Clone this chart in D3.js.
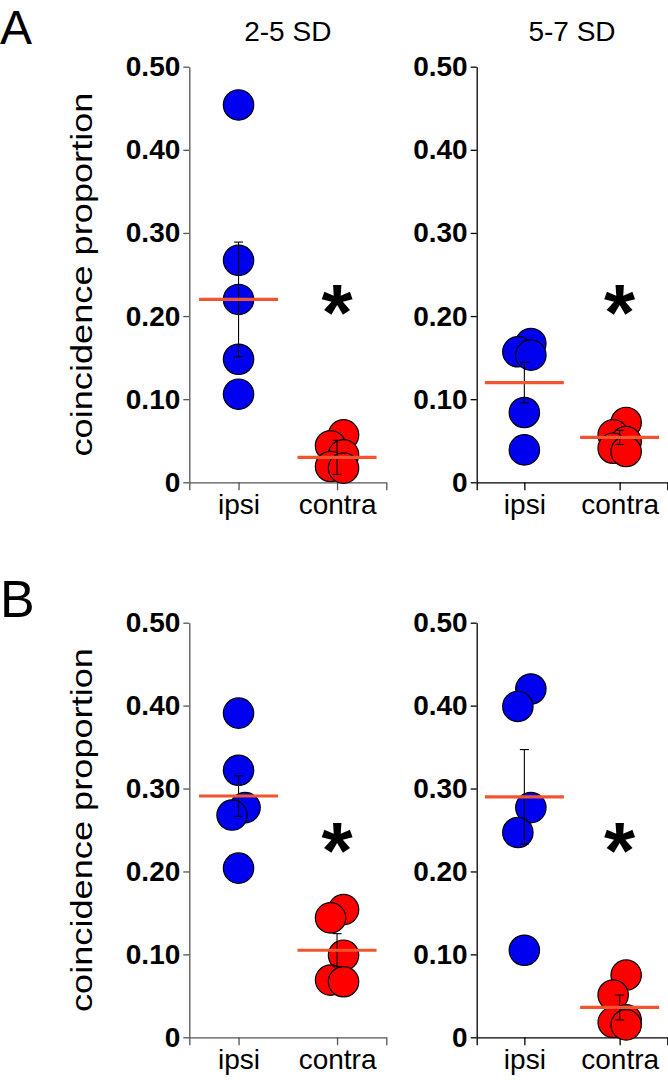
<!DOCTYPE html>
<html>
<head>
<meta charset="utf-8">
<script src="https://cdn.jsdelivr.net/npm/d3@7"></script>
<style>
  html, body { margin: 0; padding: 0; background: #fff; }
  svg { display: block; }
  text { font-family: "Liberation Sans", Arial, Helvetica, sans-serif; }
</style>
</head>
<body>
<svg id="chart" width="668" height="1080"></svg>
<script>
// ---------------- DATA ----------------
const categories = ["ipsi", "contra"];
const yTicks = [0, 0.10, 0.20, 0.30, 0.40, 0.50];
const yTickLabels = ["0", "0.10", "0.20", "0.30", "0.40", "0.50"];
const columnTitles = ["2-5 SD", "5-7 SD"];
const rowLabels = ["A", "B"];
const yLabel = "coincidence proportion";

// individual points (coincidence proportion)
const ipsiA25   = [0.454, 0.267, 0.220, 0.148, 0.106];
const contraA25 = [0.057, 0.044, 0.033, 0.019, 0.017];
const ipsiA57   = [0.167, 0.157, 0.153, 0.084, 0.039];
const contraA57 = [0.072, 0.057, 0.049, 0.041, 0.037];
const ipsiB25   = [0.391, 0.322, 0.277, 0.268, 0.204];
const contraB25 = [0.154, 0.144, 0.099, 0.069, 0.067];
const ipsiB57   = [0.420, 0.399, 0.277, 0.247, 0.105];
const contraB57 = [0.075, 0.051, 0.021, 0.018, 0.015];

// group mean and SEM [ipsi, contra]
const meanA25 = [0.220, 0.030];  const semA25 = [0.069, 0.0205];
const meanA57 = [0.120, 0.054];  const semA57 = [0.0245, 0.0085];
const meanB25 = [0.291, 0.105];  const semB25 = [0.0245, 0.020];
const meanB57 = [0.290, 0.036];  const semB57 = [0.057, 0.015];

// significance marker level (data units) for each panel: A25, A57, B25, B57
const sigLevel = [0.219, 0.219, 0.240, 0.240];

// ---------------- LAYOUT ----------------
const rowsLayout = [{top: 66.7, bottom: 482.3}, {top: 622.7, bottom: 1037.3}];
const colsLayout = [{x0: 189.3, w: 197, axisColor: "#555"}, {x0: 476.7, w: 190.6, axisColor: "#000"}];
const rowLetterPos = [{y: 44, size: 48}, {y: 617, size: 52}];
const R = 15.2;          // circle radius
const spread = 6.5;      // horizontal dodge for overlapping points
const meanHalf = 39.5;   // half-width of mean line
const capHalf = 4.5;     // half-width of error-bar caps
const colors = {ipsi: "#0000f0", contra: "#ff0000", mean: "#f2542d"};

const panels = [
  {row: 0, col: 0, pts: [ipsiA25, contraA25], mean: meanA25, sem: semA25, sig: sigLevel[0]},
  {row: 0, col: 1, pts: [ipsiA57, contraA57], mean: meanA57, sem: semA57, sig: sigLevel[1]},
  {row: 1, col: 0, pts: [ipsiB25, contraB25], mean: meanB25, sem: semB25, sig: sigLevel[2]},
  {row: 1, col: 1, pts: [ipsiB57, contraB57], mean: meanB57, sem: semB57, sig: sigLevel[3]}
];

const svg = d3.select("#chart");

// Deterministic dodge: clusters of vertically overlapping points alternate sides
function dodge(values, y) {
  const idx = values.map((v, i) => i).sort((a, b) => values[b] - values[a]);
  const off = new Array(values.length).fill(0);
  let cluster = [];
  const flush = () => {
    if (cluster.length > 1) cluster.forEach((k, j) => { off[k] = (j % 2 === 0 ? 1 : -1) * spread; });
    cluster = [];
  };
  idx.forEach((k, j) => {
    if (j > 0 && Math.abs(y(values[k]) - y(values[idx[j - 1]])) >= 2 * R) flush();
    cluster.push(k);
  });
  flush();
  return off;
}

// Row letters
rowLabels.forEach((lab, i) => {
  svg.append("text")
    .attr("x", 0)
    .attr("y", rowLetterPos[i].y)
    .attr("font-size", rowLetterPos[i].size)
    .attr("fill", "#000")
    .text(lab);
});

// Column titles
columnTitles.forEach((t, j) => {
  const c = colsLayout[j];
  svg.append("text")
    .attr("x", c.x0 + c.w / 2)
    .attr("y", 40.7)
    .attr("text-anchor", "middle")
    .attr("font-size", 28)
    .attr("fill", "#000")
    .text(t);
});

// Y labels
rowsLayout.forEach(r => {
  const cy = (r.top + r.bottom) / 2;
  svg.append("text")
    .attr("transform", `translate(92,${cy}) rotate(-90)`)
    .attr("text-anchor", "middle")
    .attr("font-size", 29)
    .attr("textLength", 364)
    .attr("lengthAdjust", "spacingAndGlyphs")
    .attr("fill", "#000")
    .text(yLabel);
});

panels.forEach(p => {
  const r = rowsLayout[p.row], c = colsLayout[p.col];
  const y = d3.scaleLinear().domain([0, 0.5]).range([r.bottom, r.top]);
  const x = d3.scalePoint().domain(categories).range([c.x0, c.x0 + c.w]).padding(0.5);
  const g = svg.append("g");

  // Y axis
  const ya = g.append("g")
    .attr("transform", `translate(${c.x0},0)`)
    .call(d3.axisLeft(y).tickValues(yTicks).tickFormat((d, i) => yTickLabels[i])
      .tickSize(6).tickSizeOuter(0).tickPadding(3));
  ya.selectAll("path, line").attr("stroke", c.axisColor).attr("stroke-width", 1.3);
  ya.selectAll("text").attr("font-size", 28).attr("font-weight", "bold")
    .attr("font-family", '"Liberation Sans", Arial, sans-serif').attr("fill", "#000");

  // X axis
  const xa = g.append("g")
    .attr("transform", `translate(0,${r.bottom})`)
    .call(d3.axisBottom(x).tickSize(8).tickSizeOuter(8).tickPadding(4));
  xa.selectAll("path, line").attr("stroke", c.axisColor).attr("stroke-width", 1.3);
  xa.selectAll("text").attr("font-size", 28).attr("font-weight", "normal")
    .attr("font-family", '"Liberation Sans", Arial, sans-serif').attr("fill", "#000")
    .attr("dy", "0.7em");

  // Points
  categories.forEach((cat, ci) => {
    const vals = p.pts[ci];
    const off = dodge(vals, y);
    const cx = x(cat);
    g.append("g").selectAll("circle")
      .data(vals.map((v, i) => ({v, dx: off[i]})))
      .join("circle")
      .attr("cx", d => cx + d.dx)
      .attr("cy", d => y(d.v))
      .attr("r", R)
      .attr("fill", colors[cat])
      .attr("stroke", "#000")
      .attr("stroke-width", 1.2);

    // error bar (SEM)
    const m = p.mean[ci], s = p.sem[ci];
    const eb = g.append("g").attr("stroke", "#000").attr("stroke-width", 1.1);
    eb.append("line").attr("x1", cx).attr("x2", cx).attr("y1", y(m - s)).attr("y2", y(m + s));
    eb.append("line").attr("x1", cx - capHalf).attr("x2", cx + capHalf).attr("y1", y(m - s)).attr("y2", y(m - s));
    eb.append("line").attr("x1", cx - capHalf).attr("x2", cx + capHalf).attr("y1", y(m + s)).attr("y2", y(m + s));

    // mean line
    g.append("line")
      .attr("x1", cx - meanHalf).attr("x2", cx + meanHalf)
      .attr("y1", y(m)).attr("y2", y(m))
      .attr("stroke", colors.mean).attr("stroke-width", 3.2);
  });

  // significance asterisk above contra
  g.append("text")
    .attr("x", x("contra"))
    .attr("y", y(p.sig) + 40)
    .attr("text-anchor", "middle")
    .attr("font-size", 80)
    .attr("font-weight", "bold")
    .attr("fill", "#000")
    .text("*");
});
</script>
</body>
</html>
